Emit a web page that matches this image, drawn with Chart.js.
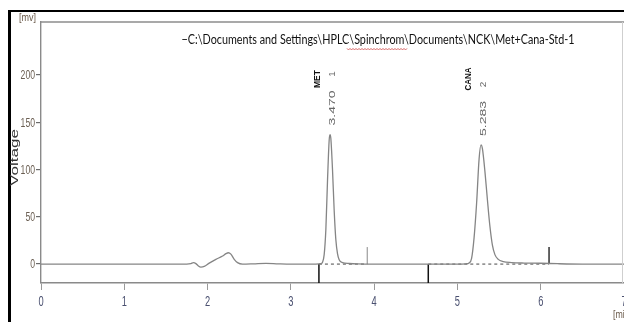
<!DOCTYPE html>
<html>
<head>
<meta charset="utf-8">
<script src="https://cdn.jsdelivr.net/npm/chart.js@4.4.1/dist/chart.umd.min.js"></script>
<style>
  body { margin: 0; background: #fff; }
  #grafico { display: block; }
</style>
</head>
<body>
<canvas id="grafico" width="624" height="322"></canvas>
<script>
// signal (min, mV)
const tempo = [0, 0.5, 1.0, 1.5, 1.75, 1.80, 1.83, 1.86, 1.89, 1.92, 1.96, 2.02, 2.10, 2.18, 2.22, 2.25, 2.28, 2.32, 2.36, 2.42,
  2.55, 2.70, 2.85, 3.00, 3.30, 3.36, 3.38, 3.40, 3.42, 3.44, 3.46, 3.47, 3.48, 3.50, 3.52, 3.54, 3.56, 3.58, 3.62, 3.70,
  3.80, 4.00, 4.50, 5.00, 5.10, 5.14, 5.17, 5.20, 5.23, 5.26, 5.283, 5.30, 5.33, 5.36, 5.39, 5.42, 5.45, 5.49, 5.55, 5.65,
  5.80, 6.00, 6.20, 6.50, 7.00];
const voltagem = [0, 0, 0, 0, 0, 0.5, 1.5, 0.5, -2, -3.2, -2.5, 1, 5, 8.5, 11, 12, 10.5, 5, 1.5, 0,
  0.3, 0.8, 0.3, 0, 0, 0.5, 2, 10, 36, 88, 131, 137, 133, 100, 57, 26, 11, 4.5, 1.5, 0.6,
  0.2, 0, 0, 0, 0.3, 1.2, 6, 28, 64, 111, 126, 122, 98, 68, 40, 20, 10, 5, 2.6, 1.6,
  1.1, 0.9, 0.4, 0, 0];

const picoTempos = [3.470, 5.283];
const picoAlturas = [137, 126];
const picoNomes = ['MET', 'CANA'];
const picoNumeros = ['1', '2'];

// integration marks
const inicioBase = [3.337, 4.65];
const fimBase = [3.917, 6.1];
const alturaFim = 18;

const ticksX = [0, 1, 2, 3, 4, 5, 6, 7];
const ticksY = [0, 50, 100, 150, 200];
const titulo = '\u2212C:\\Documents and Settings\\HPLC\\Spinchrom\\Documents\\NCK\\Met+Cana-Std-1';

const fonte = '"Liberation Sans", Arial, sans-serif';

function texto(ctx, str, x, y, o) {
    ctx.save();
    ctx.font = (o.bold ? 'bold ' : '') + o.size + 'px ' + (o.family || fonte);
    let sx = o.sx || 1;
    if (o.len) sx = o.len / ctx.measureText(str).width;
    ctx.translate(x, y);
    if (o.rot) ctx.rotate(-Math.PI / 2);
    ctx.scale(sx, 1);
    ctx.fillStyle = o.color || '#000';
    ctx.textAlign = o.align || 'center';
    ctx.textBaseline = 'alphabetic';
    ctx.fillText(str, 0, o.size * 0.36);
    ctx.restore();
}

const sinal = tempo.map((t, i) => ({ x: t, y: voltagem[i] }));

const datasets = [{
    data: sinal,
    borderColor: '#858585',
    borderWidth: 1.3,
    pointRadius: 0,
    cubicInterpolationMode: 'monotone'
}];

inicioBase.forEach((t, i) => {
    datasets.push({
        data: [{ x: t, y: 0 }, { x: fimBase[i], y: 0 }],
        borderColor: '#666',
        borderWidth: 1.2,
        borderDash: [3, 3],
        pointRadius: 0
    });
    datasets.push({
        data: [{ x: t, y: 0 }, { x: t, y: -20 }],
        borderColor: '#111',
        borderWidth: 1.5,
        pointRadius: 0
    });
    datasets.push({
        data: [{ x: fimBase[i], y: 0 }, { x: fimBase[i], y: alturaFim }],
        borderColor: i === 0 ? '#888' : '#222',
        borderWidth: i === 0 ? 1 : 1.4,
        pointRadius: 0
    });
});

const moldura = {
    id: 'moldura',
    beforeDraw(chart) {
        const ctx = chart.ctx;
        ctx.save();
        ctx.fillStyle = '#fff';
        ctx.fillRect(0, 0, chart.width, chart.height);
        ctx.restore();
    },
    afterDraw(chart) {
        const ctx = chart.ctx;
        const a = chart.chartArea;
        const sx = chart.scales.x;
        const sy = chart.scales.y;
        ctx.save();
        // outer black frame
        ctx.fillStyle = '#000';
        ctx.fillRect(8, 10, 616, 2);
        ctx.fillRect(8, 10, 3, 312);
        // top and right border of the plot
        ctx.strokeStyle = '#8c8c8c';
        ctx.lineWidth = 1.6;
        ctx.beginPath();
        ctx.moveTo(a.left, a.top);
        ctx.lineTo(a.right, a.top);
        ctx.stroke();
        ctx.strokeStyle = '#cfcfcf';
        ctx.lineWidth = 1;
        ctx.beginPath();
        ctx.moveTo(a.right - 1.5, a.top);
        ctx.lineTo(a.right - 1.5, a.bottom);
        ctx.stroke();
        ctx.restore();

        ticksY.forEach(v => {
            texto(ctx, String(v), 35, sy.getPixelForValue(v), { size: 12, sx: 0.72, align: 'right', color: '#6a5e52' });
        });
        ticksX.forEach(v => {
            texto(ctx, String(v), sx.getPixelForValue(v), 301, { size: 15, sx: 0.62, color: '#4a5070' });
        });
        texto(ctx, '[mv]', 27.5, 17, { size: 11, len: 17, color: '#6a5a4a' });
        texto(ctx, '[min]', 613, 314.5, { size: 11, sx: 0.8, align: 'left', color: '#6a5a4a' });
        texto(ctx, 'Voltage', 14.5, 157.5, { size: 11, len: 57, rot: true, color: '#333' });

        texto(ctx, titulo, 378, 39, { size: 12.5, len: 393, color: '#111', family: 'Lato, "Liberation Sans", sans-serif' });
        // spell-check squiggle under "Spinchrom"
        ctx.save();
        ctx.strokeStyle = '#d04a4a';
        ctx.lineWidth = 0.8;
        ctx.beginPath();
        for (let px = 347, k = 0; px <= 407; px += 1.5, k++) {
            const py = 49 + (k % 2 ? 1 : -0.6);
            if (k === 0) ctx.moveTo(px, py); else ctx.lineTo(px, py);
        }
        ctx.stroke();
        ctx.restore();

        picoTempos.forEach((t, i) => {
            const px = sx.getPixelForValue(t);
            const topo = sy.getPixelForValue(picoAlturas[i]);
            const num = t.toFixed(3);
            texto(ctx, num, px + 1.5, topo - 9 - 17.5, { size: 9.5, len: 35, rot: true, color: '#676767' });
            texto(ctx, picoNumeros[i], px + 1.5, topo - 60.5, { size: 9.3, len: 5.5, rot: true, color: '#676767' });
            texto(ctx, picoNomes[i], px - 13.5, 79, { size: 9, len: i === 0 ? 18 : 23, rot: true, bold: true, color: '#111' });
        });
    }
};

new Chart(document.getElementById('grafico').getContext('2d'), {
    type: 'line',
    data: { datasets: datasets },
    options: {
        responsive: false,
        animation: false,
        layout: { padding: { top: 22, right: 0, left: 0, bottom: 0 } },
        plugins: { legend: { display: false }, tooltip: { enabled: false } },
        scales: {
            x: {
                type: 'linear',
                min: 0,
                max: 7,
                afterBuildTicks: s => { s.ticks = ticksX.map(v => ({ value: v })); },
                afterFit: s => { s.height = 39; },
                ticks: { display: false },
                grid: { drawOnChartArea: false, tickLength: 7, color: '#9a9a9a', lineWidth: 1 },
                border: { display: true, color: '#8a8a8a', width: 1.6 }
            },
            y: {
                min: -20,
                max: 256,
                afterBuildTicks: s => { s.ticks = ticksY.map(v => ({ value: v })); },
                afterFit: s => { s.width = 41; },
                ticks: { display: false },
                grid: { drawOnChartArea: false, tickLength: 5, color: '#6a6a6a', lineWidth: 1.2 },
                border: { display: true, color: '#8a8a8a', width: 1.4 }
            }
        }
    },
    plugins: [moldura]
});
</script>
</body>
</html>
